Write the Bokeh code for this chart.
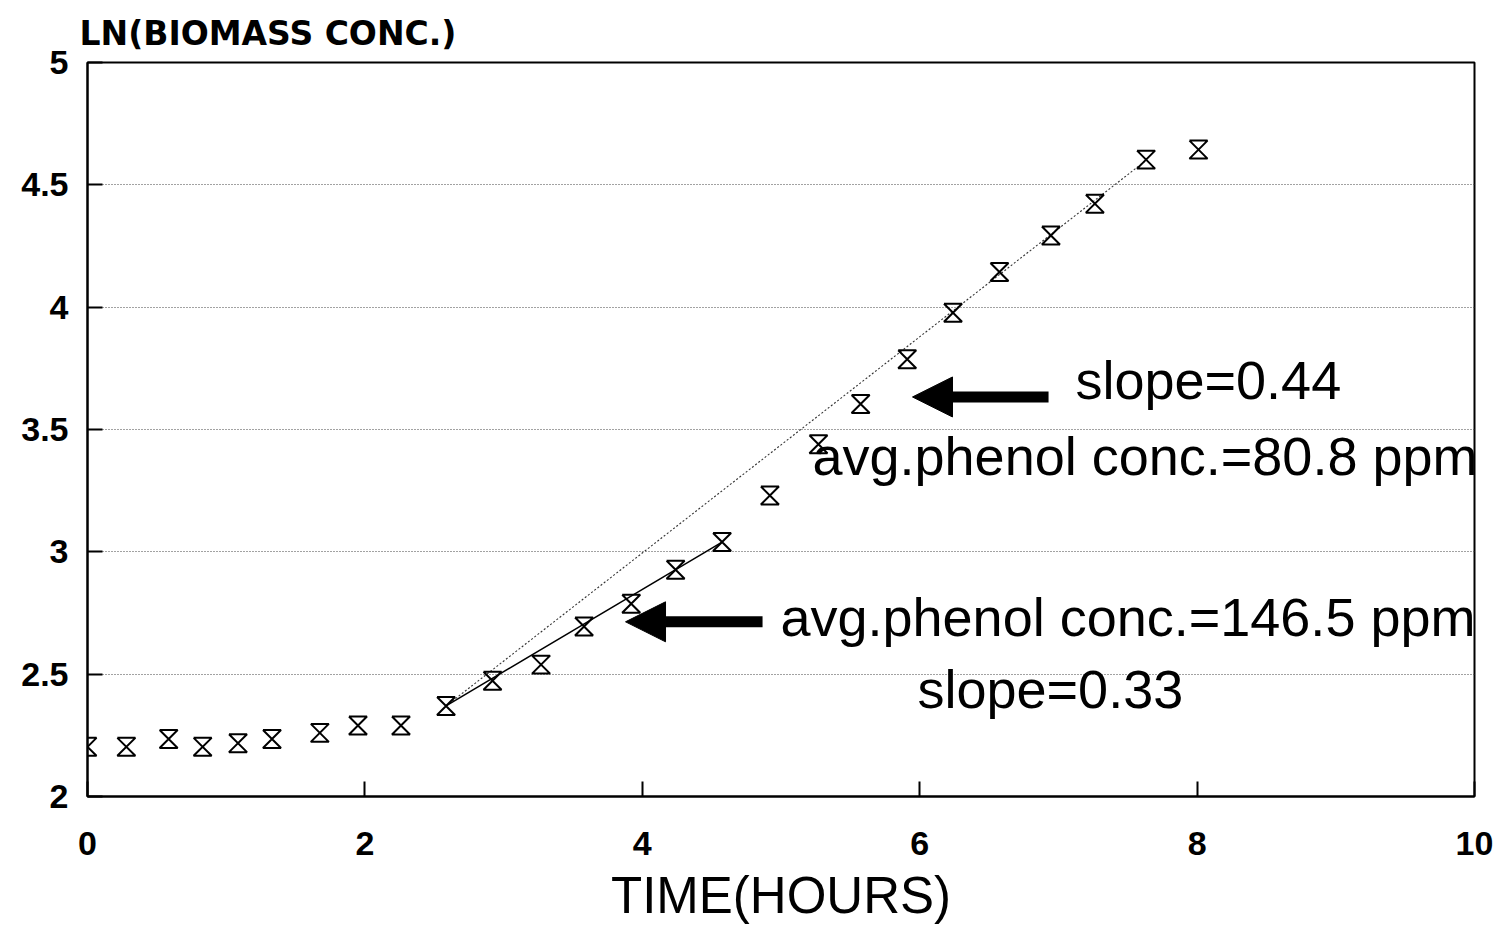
from bokeh.plotting import figure
from bokeh.models import Range1d, FixedTicker, Label, Arrow, NormalHead, Title
from bokeh.embed import file_html
from bokeh.resources import INLINE

# ---------------- data ----------------
time_h = [0.0, 0.28, 0.585, 0.83, 1.085, 1.33, 1.675, 1.95, 2.26, 2.585,
          2.92, 3.27, 3.58, 3.92, 4.24, 4.575, 4.92, 5.27, 5.574, 5.91,
          6.24, 6.575, 6.946, 7.263, 7.632, 8.01]
ln_biomass = [2.203, 2.203, 2.235, 2.203, 2.218, 2.235, 2.26, 2.29, 2.29, 2.37,
              2.473, 2.539, 2.695, 2.788, 2.927, 3.04, 3.23, 3.44, 3.604, 3.787,
              3.977, 4.144, 4.293, 4.423, 4.603, 4.644]

# fitted lines (endpoints)
fit_080_x = [2.585, 7.632]   # slope 0.44, avg phenol 80.8 ppm
fit_080_y = [2.37, 4.60]
fit_146_x = [2.585, 4.575]   # slope 0.33, avg phenol 146.5 ppm
fit_146_y = [2.37, 3.04]

x_ticks = [0, 2, 4, 6, 8, 10]
x_tick_labels = ["0", "2", "4", "6", "8", "10"]
y_ticks = [2, 2.5, 3, 3.5, 4, 4.5, 5]
y_tick_labels = ["2", "2.5", "3", "3.5", "4", "4.5", "5"]

y_title = "LN(BIOMASS CONC.)"
x_title = "TIME(HOURS)"
note_slope_fast = "slope=0.44"
note_conc_fast = "avg.phenol conc.=80.8 ppm"
note_conc_slow = "avg.phenol conc.=146.5 ppm"
note_slope_slow = "slope=0.33"

# ---------------- layout ----------------
W, H = 1503, 926
LEFT, RIGHT, TOP, BOTTOM = 87, 29, 62, 129
X0, X1, Y0, Y1 = 0, 10, 2, 5

p = figure(width=W, height=H, output_backend="svg", toolbar_location=None,
           x_range=Range1d(X0, X1), y_range=Range1d(Y0, Y1),
           min_border_left=LEFT, min_border_right=RIGHT,
           min_border_top=TOP, min_border_bottom=BOTTOM,
           background_fill_color="white", border_fill_color="white")

p.title = Title(text=y_title, align="left", offset=-8, standoff=19,
                text_font="DejaVu Sans", text_font_style="bold",
                text_font_size="33px", text_color="black")

p.outline_line_color = "black"
p.outline_line_width = 2

# axes
for ax in (p.xaxis[0], p.yaxis[0]):
    ax.axis_line_color = "black"
    ax.axis_line_width = 2
    ax.major_tick_line_color = "black"
    ax.major_tick_line_width = 2
    ax.major_tick_in = 15
    ax.major_tick_out = 0
    ax.minor_tick_line_color = None
    ax.major_label_text_font = "Liberation Sans"
    ax.major_label_text_font_style = "bold"
    ax.major_label_text_font_size = "34px"
    ax.major_label_text_color = "black"

p.xaxis.ticker = FixedTicker(ticks=x_ticks)
p.xaxis.major_label_overrides = dict(zip(x_ticks, x_tick_labels))
p.xaxis.major_label_standoff = 35
p.xaxis.axis_label = x_title
p.xaxis.axis_label_standoff = 9
p.xaxis.axis_label_text_font = "Liberation Sans"
p.xaxis.axis_label_text_font_style = "normal"
p.xaxis.axis_label_text_font_size = "51px"
p.xaxis.axis_label_text_color = "black"

p.yaxis.ticker = FixedTicker(ticks=y_ticks)
p.yaxis.major_label_overrides = dict(zip(y_ticks, y_tick_labels))
p.yaxis.major_label_standoff = 19

p.xgrid.visible = False
p.ygrid.grid_line_color = "#444444"
p.ygrid.grid_line_width = 1
p.ygrid.grid_line_dash = "1 2"

# fitted lines
p.line(fit_080_x, fit_080_y, line_color="#333333", line_width=1.1, line_dash="2 2")
p.line(fit_146_x, fit_146_y, line_color="black", line_width=1.5)

# hourglass markers (built from the data points, fixed pixel size)
px_per_x = (W - LEFT - RIGHT) / (X1 - X0)
px_per_y = (H - TOP - BOTTOM) / (Y1 - Y0)
hw = 9 / px_per_x
hh = 9 / px_per_y
xs = [[x - hw, x + hw, x - hw, x + hw, x - hw] for x in time_h]
ys = [[y + hh, y + hh, y - hh, y - hh, y + hh] for y in ln_biomass]
p.multi_line(xs, ys, line_color="black", line_width=2)

# arrows
p.add_layout(Arrow(end=NormalHead(size=40, fill_color="black", line_color="black"),
                   x_start=6.929, y_start=3.633, x_end=5.948, y_end=3.633,
                   line_width=11, line_color="black"))
p.add_layout(Arrow(end=NormalHead(size=40, fill_color="black", line_color="black"),
                   x_start=4.867, y_start=2.714, x_end=3.879, y_end=2.714,
                   line_width=11, line_color="black"))

# annotation texts
def note(x, y, txt, size="54px"):
    p.add_layout(Label(x=x, y=y, text=txt, text_font="Liberation Sans",
                       text_font_size=size, text_align="left",
                       text_baseline="alphabetic", text_color="black"))

note(7.123, 3.703, note_slope_fast)
note(5.227, 3.392, note_conc_fast)
note(4.996, 2.735, note_conc_slow)
note(5.984, 2.441, note_slope_slow)

open("out.html", "w").write(file_html(p, INLINE))
